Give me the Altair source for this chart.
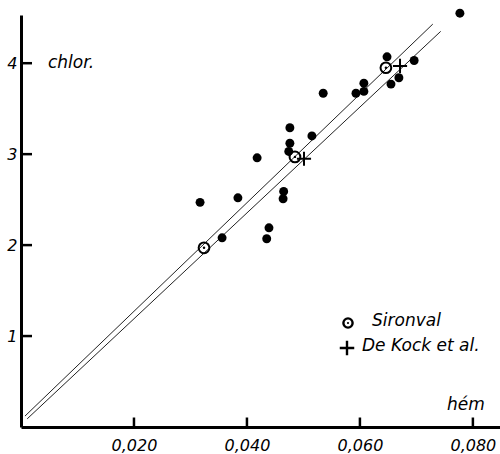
import altair as alt
import pandas as pd

# measured data (hém vs chlor.)
dot_x = [0.0317, 0.0356, 0.0384, 0.0418, 0.0439, 0.0435, 0.0465, 0.0464, 0.0476, 0.0476,
         0.0474, 0.0515, 0.0535, 0.0593, 0.0607, 0.0607, 0.0648, 0.0655, 0.0669, 0.0696, 0.0777]
dot_y = [2.47, 2.08, 2.52, 2.96, 2.19, 2.07, 2.59, 2.51, 3.29, 3.12,
         3.03, 3.20, 3.67, 3.67, 3.78, 3.69, 4.07, 3.77, 3.84, 4.03, 4.55]

sironval_x = [0.0324, 0.0485, 0.0646]
sironval_y = [1.97, 2.97, 3.95]

dekock_x = [0.0501, 0.0671]
dekock_y = [2.95, 3.97]

# regression lines (endpoints)
line_sironval_x = [0.0007, 0.0729]
line_sironval_y = [0.12, 4.43]
line_dekock_x = [0.0011, 0.0743]
line_dekock_y = [0.09, 4.35]

x_ticks = [0.020, 0.040, 0.060, 0.080]
x_tick_labels = ["0,020", "0,040", "0,060", "0,080"]
y_ticks = [1, 2, 3, 4]

X_MAX = 0.0848
Y_MAX = 4.53
W = 479
H = 412
FONT = "DejaVu Sans"

dots = pd.DataFrame({"x": dot_x, "y": dot_y})
sir = pd.DataFrame({"x": sironval_x, "y": sironval_y})
dek = pd.DataFrame({"x": dekock_x, "y": dekock_y})
lines = pd.DataFrame({
    "x": line_sironval_x + line_dekock_x,
    "y": line_sironval_y + line_dekock_y,
    "s": ["Sironval"] * 2 + ["De Kock"] * 2,
})
xt = pd.DataFrame({"x": x_ticks, "y": [0.0] * len(x_ticks)})
yt = pd.DataFrame({"x": [0.0] * len(y_ticks), "y": y_ticks})

label_map = "{" + ",".join(f"'{v:.3f}':'{l}'" for v, l in zip(x_ticks, x_tick_labels)) + "}"

xs = alt.Scale(domain=[0, X_MAX], nice=False, zero=False)
ys = alt.Scale(domain=[0, Y_MAX], nice=False, zero=False)

xax = alt.Axis(values=x_ticks, labelExpr=label_map + "[format(datum.value, '.3f')]",
               title=None, grid=False, tickSize=0, labelPadding=10)
yax = alt.Axis(values=y_ticks, format="d", title=None, grid=False, tickSize=0, labelPadding=4)

base_x = alt.X("x:Q", scale=xs, axis=xax)
base_y = alt.Y("y:Q", scale=ys, axis=yax)

line_layer = alt.Chart(lines).mark_line(color="#222", strokeWidth=1).encode(
    x=base_x, y=base_y, detail="s:N")

# inward ticks as one-sided segment symbols
RIGHT_SEG = "M0,0L1,0"
UP_SEG = "M0,0L0,-1"
ytick_layer = alt.Chart(yt).mark_point(shape=RIGHT_SEG, size=484, color="black",
                                       strokeWidth=2.5, opacity=1).encode(
    x=alt.X("x:Q", scale=xs), y=alt.Y("y:Q", scale=ys))
xtick_layer = alt.Chart(xt).mark_point(shape=UP_SEG, size=360, color="black",
                                       strokeWidth=2.5, opacity=1).encode(
    x=alt.X("x:Q", scale=xs), y=alt.Y("y:Q", scale=ys))

dot_layer = alt.Chart(dots).mark_circle(size=80, color="black", opacity=1).encode(
    x=alt.X("x:Q", scale=xs), y=alt.Y("y:Q", scale=ys))

sir_layer = alt.Chart(sir).mark_point(shape="circle", filled=False, size=115, color="black",
                                      strokeWidth=2, opacity=1).encode(
    x=alt.X("x:Q", scale=xs), y=alt.Y("y:Q", scale=ys))
sir_center = alt.Chart(sir).mark_circle(size=6, color="black", opacity=1).encode(
    x=alt.X("x:Q", scale=xs), y=alt.Y("y:Q", scale=ys))

PLUS = "M-1,0L1,0M0,-1L0,1"
dek_layer = alt.Chart(dek).mark_point(shape=PLUS, size=200, color="black", strokeWidth=2,
                                      opacity=1).encode(
    x=alt.X("x:Q", scale=xs), y=alt.Y("y:Q", scale=ys))

def label(text, px, py, size=17, align="left", baseline="middle"):
    return alt.Chart(pd.DataFrame({"t": [text]})).mark_text(
        font=FONT, fontStyle="italic", fontSize=size, align=align, baseline=baseline,
        color="black").encode(text="t:N", x=alt.value(px), y=alt.value(py))

texts = [
    label("chlor.", 27, 48),
    label("hém", 426, 390),
    label("Sironval", 351, 306),
    label("De Kock et al.", 341, 331),
]

leg_sir = alt.Chart(pd.DataFrame({"a": [0]})).mark_point(
    shape="circle", filled=False, size=85, color="black", strokeWidth=2.4, opacity=1).encode(
    x=alt.value(327), y=alt.value(308))
leg_sir_c = alt.Chart(pd.DataFrame({"a": [0]})).mark_circle(
    size=5, color="black", opacity=1).encode(x=alt.value(327), y=alt.value(308))
leg_dek = alt.Chart(pd.DataFrame({"a": [0]})).mark_point(
    shape=PLUS, size=210, color="black", strokeWidth=2.4, opacity=1).encode(
    x=alt.value(326), y=alt.value(333))

chart = alt.layer(
    line_layer, dot_layer, sir_layer, sir_center, dek_layer,
    *texts, leg_sir, leg_sir_c, leg_dek, ytick_layer, xtick_layer
).properties(
    width=W, height=H,
    autosize=alt.AutoSizeParams(type="none"),
    padding={"left": 21, "top": 15, "right": 0, "bottom": 27},
).configure_view(stroke=None).configure_axis(
    domainColor="black", domainWidth=3, labelFont=FONT, labelFontStyle="italic",
    labelFontSize=16, labelColor="black",
)

chart.save("out.html", embed_options={"renderer": "svg", "actions": False})
